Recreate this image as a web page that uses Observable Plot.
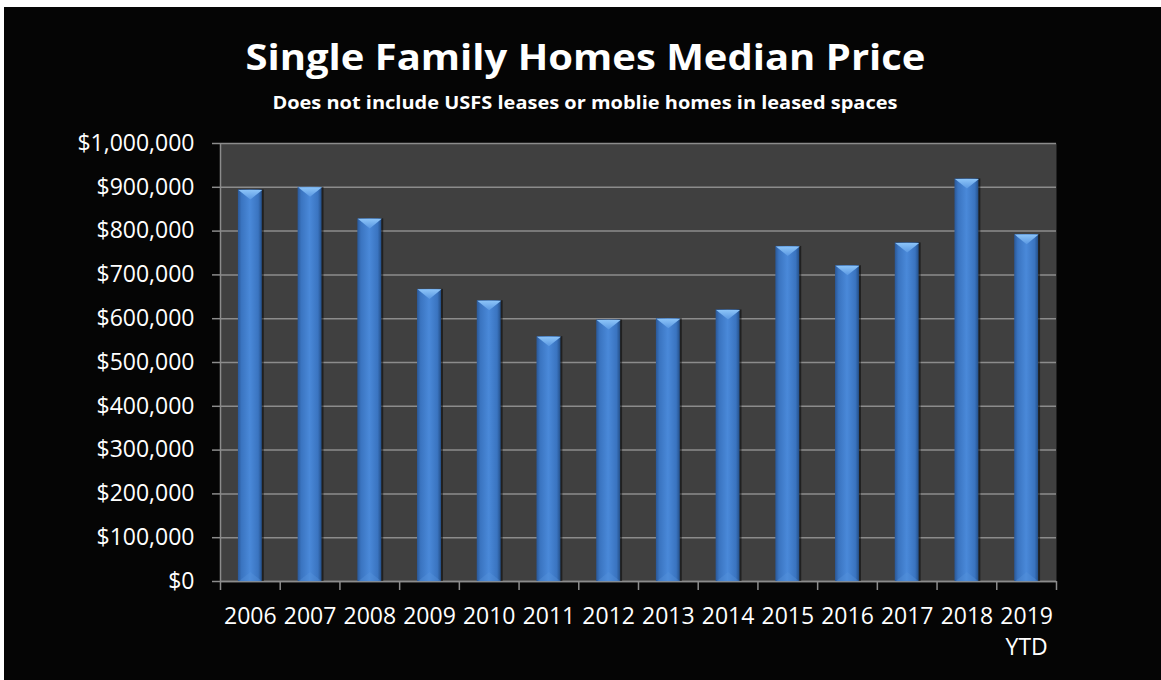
<!DOCTYPE html>
<html><head><meta charset="utf-8">
<script src="https://cdn.jsdelivr.net/npm/d3@7"></script>
<script src="https://cdn.jsdelivr.net/npm/@observablehq/plot@0.6"></script>
<style>
html,body{margin:0;padding:0;background:#050505;width:1161px;height:680px;overflow:hidden;}
#chart{position:absolute;left:4px;top:7px;width:1200px;height:720px;background:#050505;font-family:"Open Sans",sans-serif;color:#fff;border-left:0;}
#edgeTop{position:absolute;left:0;top:0;width:1300px;height:7px;background:#fff;}
#edgeLeft{position:absolute;left:0;top:0;width:4px;height:800px;background:#fff;}
.ttl{position:absolute;left:0;width:1162px;text-align:center;white-space:nowrap;line-height:1;}
.ttl span{display:inline-block;transform-origin:50% 50%;}
#title{top:31px;font-size:36.4px;font-weight:700;}
#subtitle{top:87px;font-size:17px;font-weight:700;}
#plot{position:absolute;left:0;top:120px;}
</style>
</head><body>
<div id="edgeTop"></div><div id="edgeLeft"></div>
<div id="chart">
  <div id="title" class="ttl"><span>Single Family Homes Median Price</span></div>
  <div id="subtitle" class="ttl"><span>Does not include USFS leases or moblie homes in leased spaces</span></div>
  <div id="plot"></div>
</div>
<script>
const years = ["2006","2007","2008","2009","2010","2011","2012","2013","2014","2015","2016","2017","2018","2019\nYTD"];
const prices = [894000,900000,828000,667000,641000,559000,597000,600000,620000,765000,721000,773000,919000,792000];
const yTicks = [0,100000,200000,300000,400000,500000,600000,700000,800000,900000,1000000];

const W = 1157, H = 553, mL = 216, mR = 105, mT = 16, mB = 99;
const step = (W - mL - mR) / years.length;
const bw = step * 0.4;
const inset = (step - bw) / 2;
const data = years.map((year, i) => ({year, price: prices[i]}));
const grey = "#8c8c8c";

const capDown = {draw(ctx, size){ const r = Math.sqrt(size/Math.PI); ctx.moveTo(-r,0); ctx.lineTo(r,0); ctx.lineTo(0,r*0.8); ctx.closePath(); }};
const capUp = {draw(ctx, size){ const r = Math.sqrt(size/Math.PI); ctx.moveTo(-r,0); ctx.lineTo(r,0); ctx.lineTo(0,-r*0.8); ctx.closePath(); }};

const svg = Plot.plot({
  width: W, height: H, marginLeft: mL, marginRight: mR, marginTop: mT, marginBottom: mB,
  style: {background: "transparent", color: "#fff", fontFamily: "Open Sans, sans-serif", fontSize: "23px", overflow: "visible"},
  x: {domain: years, padding: 0, round: false, label: null, axis: null},
  y: {domain: [0, 1000000], label: null, axis: null},
  marks: [
    Plot.frame({fill: "#404040", stroke: null}),
    Plot.gridY(yTicks, {stroke: grey, strokeOpacity: 1, strokeWidth: 1.5}),
    Plot.gridX([years[0]], {dx: -step/2, stroke: grey, strokeOpacity: 1, strokeWidth: 1.5}),
    Plot.ruleY([0], {stroke: grey, strokeWidth: 1.5}),
    Plot.axisY(yTicks, {tickSize: 8, tickPadding: 18, stroke: grey, strokeWidth: 1.5, fill: "#fff", tickFormat: d3.format("$,.0f"), label: null}),
    Plot.axisX(years, {tickSize: 9, dx: -step/2, tickFormat: () => "", stroke: grey, strokeWidth: 1.5, label: null}),
    Plot.axisX([years[years.length-1]], {tickSize: 9, dx: step/2, tickFormat: () => "", stroke: grey, strokeWidth: 1.5, label: null}),
    Plot.axisX(years, {tickSize: 0, tickPadding: 20, fill: "#fff", label: null, lineHeight: 1.35}),
    Plot.barY(data, {x: "year", y: "price", dx: 2, insetLeft: inset, insetRight: inset, fill: "#000", fillOpacity: 0.5}),
    Plot.barY(data, {x: "year", y: "price", insetLeft: inset, insetRight: inset, fill: "url(#barGrad)"}),
    Plot.dot(data, {x: "year", y: d => 0, symbol: capUp, r: bw/2, fill: "#5a94dc", fillOpacity: 0.35, stroke: "none"}),
    Plot.dot(data, {x: "year", y: "price", symbol: capDown, r: bw/2, fill: "url(#capGrad)", stroke: "none"})
  ]
});

d3.select(svg).insert("defs", ":first-child").html(`
  <linearGradient id="barGrad" x1="0" x2="1" y1="0" y2="0">
    <stop offset="0" stop-color="#2a5898"/>
    <stop offset="0.15" stop-color="#3a74c0"/>
    <stop offset="0.5" stop-color="#4a89d9"/>
    <stop offset="0.85" stop-color="#3a74c0"/>
    <stop offset="1" stop-color="#24508a"/>
  </linearGradient>
  <linearGradient id="capGrad" x1="0" x2="0" y1="0" y2="1">
    <stop offset="0" stop-color="#8cc4f8"/>
    <stop offset="1" stop-color="#5a98e2"/>
  </linearGradient>`);

document.getElementById("plot").appendChild(svg);

function fit(id, target){
  const s = document.querySelector("#" + id + " span");
  s.style.transform = "none";
  const w = s.getBoundingClientRect().width;
  if (w > 0) s.style.transform = `scaleX(${target / w})`;
}
function fitAll(){ fit("title", 680); fit("subtitle", 625); }
fitAll();
if (document.fonts && document.fonts.ready) document.fonts.ready.then(fitAll);
</script>
</body></html>
